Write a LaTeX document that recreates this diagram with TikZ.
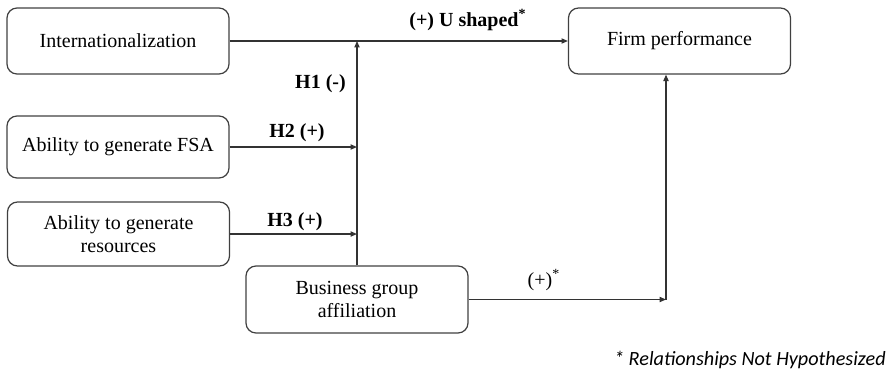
\documentclass[tikz,border=0pt]{standalone}
\usepackage{fontspec}
\setmainfont{Liberation Serif}
\newfontfamily\notefont{Carlito}
\usetikzlibrary{arrows.meta}

\begin{document}
\begin{tikzpicture}[x=0.5pt, y=-0.5pt, every path/.append style={line width=0.6pt},
		link/.style = {->, draw=black!80},
		box/.style = {draw=black!75, rounded corners=5pt, minimum width=111pt, minimum height=33pt, align=center, font=\fontsize{10}{11.5}\selectfont},
		lbl/.style = {font=\fontsize{10}{12}\selectfont\bfseries},
		>={Triangle[length=3.2pt, width=2.6pt]}]
			\useasboundingbox (0, 0) rectangle (896, 376);
			\node (intl) at (118, 41) [box]  {Internationalization};
			\node (firm) at (679.5, 41) [box]  {Firm performance};
			\node (fsa)  at (118, 147) [box,minimum height=31pt]  {Ability to generate FSA};
			\node (res)  at (118.5, 234) [box,minimum height=32pt]  {Ability to generate\\resources};
			\node (bga)  at (357, 299.5) [box,minimum height=33.5pt]  {Business group\\affiliation};
			\coordinate (mod) at (bga.north |- intl.east);
			\coordinate (cnr) at (666, 299.5);
			\draw      [link] (intl) -- (firm);
			\draw      [link] (bga) -- (mod);
			\draw      [link] (fsa) -- (fsa -| mod);
			\draw      [link] (res) -- (res -| mod);
			\draw      [link] (bga) -- (cnr);
			\draw      [link] (cnr) -- (cnr |- firm.south);
			\node (lu)  at (468, 20) [lbl]  {(+) U shaped\textsuperscript{*}};
			\node (l1)  at (353, 84) [lbl,anchor=east]  {H1 (-)};
			\node (l2)  at (297, 133) [lbl]  {H2 (+)};
			\node (l3)  at (295, 222) [lbl]  {H3 (+)};
			\node (lb)  at (544, 280) [font=\fontsize{10}{12}\selectfont]  {(+)\textsuperscript{*}};
			\node (note) at (893, 360) [anchor=east,font=\notefont\itshape\fontsize{10.1}{12}\selectfont]  {* Relationships Not Hypothesized};
		\end{tikzpicture}
\end{document}
